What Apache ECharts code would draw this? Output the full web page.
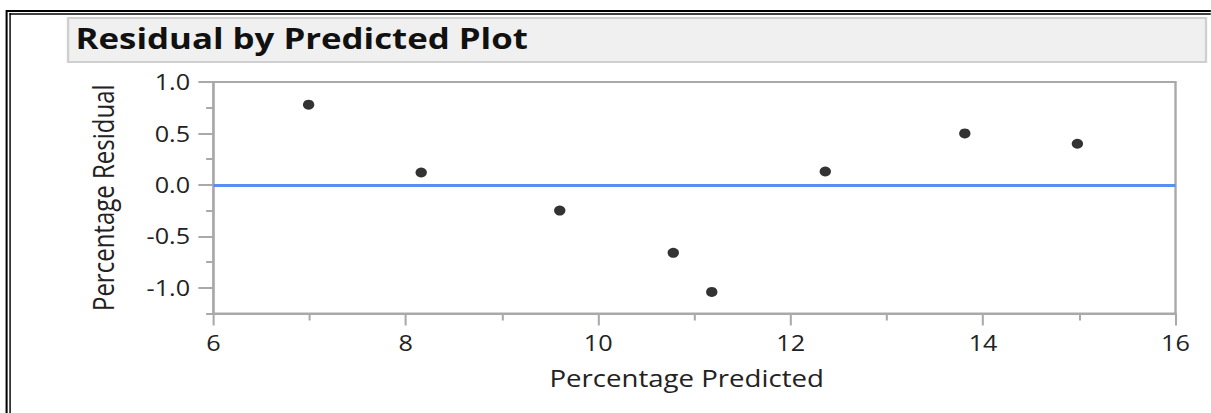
<!DOCTYPE html>
<html>
<head>
<meta charset="utf-8">
<script src="https://cdn.jsdelivr.net/npm/echarts@6/dist/echarts.min.js"></script>
<style>
  html, body { margin: 0; padding: 0; background: #fff; overflow: hidden; }
  /* the report renders with a wide face: draw narrow, then widen */
  #chart { width: 1009.2px; height: 413px; transform: scaleX(1.2); transform-origin: 0 0; }
</style>
</head>
<body>
<div id="chart"></div>
<script>
// Predicted values (x) and residuals (y), in percent
const predicted = [6.99, 8.16, 9.60, 10.78, 11.18, 12.36, 13.81, 14.98];
const residual  = [0.78, 0.12, -0.25, -0.66, -1.04, 0.13, 0.50, 0.40];

// Axis tick positions
const yMajorTicks = [-1, -0.5, 0, 0.5, 1];
const yMinorTicks = [-1.25, -0.75, -0.25, 0.25, 0.75];

const titleText = 'Residual by Predicted Plot';
const xTitle = 'Percentage Predicted';
const yTitle = 'Percentage Residual';

const FONT = '"Open Sans", "DejaVu Sans", sans-serif';
const AXIS_GRAY = '#a9a9a9';
const TEXT = '#222';

const points = predicted.map((x, i) => [x, residual[i]]);

const chart = echarts.init(document.getElementById('chart'), null, { renderer: 'svg' });

chart.setOption({
  backgroundColor: '#ffffff',
  animation: false,
  graphic: [
    // outer double frame (top and left edges)
    { type: 'line', shape: { x1: 5, y1: 11, x2: 1010, y2: 11 }, style: { stroke: '#000', lineWidth: 2 } },
    { type: 'line', shape: { x1: 8, y1: 14, x2: 1010, y2: 14 }, style: { stroke: '#000', lineWidth: 1.5 } },
    { type: 'line', shape: { x1: 5.5, y1: 10, x2: 5.5, y2: 413 }, style: { stroke: '#000', lineWidth: 1.7 } },
    { type: 'line', shape: { x1: 8.4, y1: 13, x2: 8.4, y2: 413 }, style: { stroke: '#000', lineWidth: 1.2 } },
    // title bar
    { type: 'rect', shape: { x: 56.7, y: 18, width: 948.3, height: 44 },
      style: { fill: '#f0f0f0', stroke: '#cfcfcf', lineWidth: 2 } },
    { type: 'text', left: 63, top: 23.5,
      style: { text: titleText, font: 'bold 29px ' + FONT, fill: '#111' } }
  ],
  grid: { left: 177.8, top: 82, width: 801.8, bottom: 99.5, show: true,
          borderColor: AXIS_GRAY, borderWidth: 2, containLabel: false },
  xAxis: {
    type: 'value', min: 6, max: 16, interval: 2,
    name: xTitle, nameLocation: 'middle', nameGap: 53,
    nameTextStyle: { fontFamily: FONT, fontSize: 23, color: TEXT, padding: [0, 13, 0, 0] },
    axisLine: { show: true, onZero: false, lineStyle: { color: AXIS_GRAY, width: 2 } },
    axisTick: { show: true, length: 12, lineStyle: { color: AXIS_GRAY, width: 1.7 } },
    minorTick: { show: true, splitNumber: 2, length: 7, lineStyle: { color: AXIS_GRAY, width: 1.7 } },
    axisLabel: { fontFamily: FONT, fontSize: 21, color: TEXT, margin: 19 },
    splitLine: { show: false }
  },
  yAxis: [
    {
      type: 'value', min: -1.25, max: 1,
      name: yTitle, nameLocation: 'middle', nameGap: 80, nameRotate: 90,
      nameTextStyle: { fontFamily: FONT, fontSize: 24, color: TEXT },
      axisLine: { show: true, onZero: false, lineStyle: { color: AXIS_GRAY, width: 1.7 } },
      axisTick: { show: true, length: 12.5, customValues: yMajorTicks,
                  lineStyle: { color: AXIS_GRAY, width: 2 } },
      axisLabel: { fontFamily: FONT, fontSize: 21, color: TEXT, margin: 19.4,
                   customValues: yMajorTicks,
                   formatter: v => v.toFixed(1) },
      splitLine: { show: false }
    },
    {
      // quarter-step minor ticks on the same scale
      type: 'value', min: -1.25, max: 1, position: 'left',
      axisLine: { show: false },
      axisTick: { show: true, length: 6, customValues: yMinorTicks,
                  lineStyle: { color: AXIS_GRAY, width: 2 } },
      axisLabel: { show: false },
      splitLine: { show: false }
    }
  ],
  series: [{
    type: 'scatter',
    data: points,
    symbol: 'circle',
    symbolSize: [9.5, 10],
    itemStyle: { color: '#000' },
    markLine: {
      silent: true,
      symbol: 'none',
      label: { show: false },
      lineStyle: { color: '#5b8df2', width: 3, type: 'solid' },
      data: [{ yAxis: 0 }]
    },
    z: 3
  }]
});
</script>
</body>
</html>
